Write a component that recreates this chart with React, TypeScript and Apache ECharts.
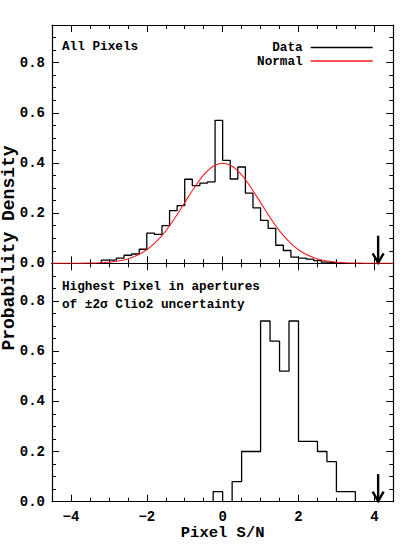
import React, { useEffect, useRef } from "react";
import * as echarts from "echarts";

// ---------- data ----------
// Upper panel: all pixels, histogram of S/N (bin width 0.2, first bin starts at -3.2)
const allBinStart = -3.2;
const allBinWidth = 0.2;
const allHeights = [
  0.013, 0.013, 0.021, 0.032, 0.037, 0.056, 0.12, 0.115, 0.15, 0.21, 0.23,
  0.335, 0.31, 0.32, 0.325, 0.57, 0.41, 0.336, 0.384, 0.28, 0.221, 0.171,
  0.139, 0.072, 0.051, 0.025, 0.021, 0.017, 0.011, 0.005, 0.003,
];

// Normal curve, read at x = -4.5 ... 4.5 every 0.25
const normalX = [
  -4.5, -4.25, -4.0, -3.75, -3.5, -3.25, -3.0, -2.75, -2.5, -2.25, -2.0, -1.75,
  -1.5, -1.25, -1.0, -0.75, -0.5, -0.25, 0.0, 0.25, 0.5, 0.75, 1.0, 1.25, 1.5,
  1.75, 2.0, 2.25, 2.5, 2.75, 3.0, 3.25, 3.5, 3.75, 4.0, 4.25, 4.5,
];
const normalY = [
  0.0, 0.0, 0.0001, 0.0004, 0.0009, 0.002, 0.0044, 0.0091, 0.0175, 0.0317,
  0.054, 0.0863, 0.1295, 0.1826, 0.242, 0.3011, 0.3521, 0.3867, 0.3989,
  0.3867, 0.3521, 0.3011, 0.242, 0.1826, 0.1295, 0.0863, 0.054, 0.0317,
  0.0175, 0.0091, 0.0044, 0.002, 0.0009, 0.0004, 0.0001, 0.0, 0.0,
];

// Lower panel: highest pixel in apertures (bin width 0.25, first bin starts at -0.25)
const highBinStart = -0.25;
const highBinWidth = 0.25;
const highHeights = [
  0.04, 0.0, 0.08, 0.2, 0.2, 0.72, 0.64, 0.52, 0.72, 0.24, 0.24, 0.2, 0.16,
  0.04, 0.04,
];

// Arrow marker (position, length in density units)
const arrowX = 4.1;
const arrowLen = 0.11;

// Ticks
const xMajor = [-4, -2, 0, 2, 4];
const xMinor = [
  -4.5, -4, -3.5, -3, -2.5, -2, -1.5, -1, -0.5, 0, 0.5, 1, 1.5, 2, 2.5, 3, 3.5,
  4, 4.5,
];
const yMajor = [0, 0.2, 0.4, 0.6, 0.8];
const yMinor = [
  0, 0.05, 0.1, 0.15, 0.2, 0.25, 0.3, 0.35, 0.4, 0.45, 0.5, 0.55, 0.6, 0.65,
  0.7, 0.75, 0.8, 0.85, 0.9, 0.95,
];

const X_MIN = -4.5;
const X_MAX = 4.5;
const Y_MIN = 0;
const Y_MAX = 0.95;

const FONT = '"Liberation Mono", "DejaVu Sans Mono", monospace';

function stepOutline(start: number, width: number, heights: number[]) {
  const pts: number[][] = [];
  pts.push([start, 0]);
  heights.forEach((h, i) => {
    const l = start + i * width;
    const r = start + (i + 1) * width;
    pts.push([l, h]);
    pts.push([r, h]);
  });
  pts.push([start + heights.length * width, 0]);
  return pts;
}

function minusFmt(v: number) {
  const r = Math.round(v * 100) / 100;
  return r < 0 ? "\u2212" + String(-r) : String(r);
}

export default function App() {
  const ref = useRef<HTMLDivElement>(null);

  useEffect(() => {
    if (!ref.current) return;
    const chart = echarts.init(ref.current, undefined, { renderer: "svg" });

    const axisLine = { show: true, onZero: false, lineStyle: { color: "#000", width: 1.2 } };
    const noLine = { show: false, onZero: false };
    const tickStyle = { color: "#000", width: 1 };

    const grids = [
      { left: 52, right: 24.7, top: 25, height: 238.3 },
      { left: 52, right: 24.7, top: 263.3, height: 238.4 },
    ];

    const xAxes: any[] = [];
    const yAxes: any[] = [];
    grids.forEach((_, g) => {
      const base = { gridIndex: g, type: "value", min: X_MIN, max: X_MAX, splitLine: { show: false } };
      xAxes.push({
        ...base,
        position: "bottom",
        axisLine,
        axisTick: { show: true, inside: true, length: 7, customValues: xMajor, lineStyle: tickStyle },
        axisLabel: {
          show: g === 1,
          customValues: xMajor,
          formatter: (v: number) => minusFmt(v),
          margin: 8,
          color: "#000",
          fontFamily: FONT,
          fontWeight: "bold",
          fontSize: 14,
        },
        name: g === 1 ? "Pixel S/N" : "",
        nameLocation: "middle",
        nameGap: 23,
        nameTextStyle: { color: "#000", fontFamily: FONT, fontWeight: "bold", fontSize: 15.5 },
      });
      xAxes.push({
        ...base,
        position: "bottom",
        axisLine: noLine,
        axisTick: { show: true, inside: true, length: 4, customValues: xMinor, lineStyle: tickStyle },
        axisLabel: { show: false },
      });
      xAxes.push({
        ...base,
        position: "top",
        axisLine,
        axisTick: { show: true, inside: true, length: 7, customValues: xMajor, lineStyle: tickStyle },
        axisLabel: { show: false },
      });
      xAxes.push({
        ...base,
        position: "top",
        axisLine: noLine,
        axisTick: { show: true, inside: true, length: 4, customValues: xMinor, lineStyle: tickStyle },
        axisLabel: { show: false },
      });

      const ybase = { gridIndex: g, type: "value", min: Y_MIN, max: Y_MAX, splitLine: { show: false } };
      yAxes.push({
        ...ybase,
        position: "left",
        axisLine,
        axisTick: { show: true, inside: true, length: 7, customValues: yMajor, lineStyle: tickStyle },
        axisLabel: {
          show: true,
          customValues: yMajor,
          formatter: (v: number) => v.toFixed(1),
          margin: 7,
          color: "#000",
          fontFamily: FONT,
          fontWeight: "bold",
          fontSize: 14,
        },
      });
      yAxes.push({
        ...ybase,
        position: "left",
        axisLine: noLine,
        axisTick: { show: true, inside: true, length: 4, customValues: yMinor, lineStyle: tickStyle },
        axisLabel: { show: false },
      });
      yAxes.push({
        ...ybase,
        position: "right",
        axisLine,
        axisTick: { show: true, inside: true, length: 7, customValues: yMajor, lineStyle: tickStyle },
        axisLabel: { show: false },
      });
      yAxes.push({
        ...ybase,
        position: "right",
        axisLine: noLine,
        axisTick: { show: true, inside: true, length: 4, customValues: yMinor, lineStyle: tickStyle },
        axisLabel: { show: false },
      });
    });

    const arrowSeries = (g: number) => ({
      type: "custom",
      name: "arrow" + g,
      xAxisIndex: g * 4,
      yAxisIndex: g * 4,
      clip: false,
      silent: true,
      data: [[arrowX, arrowLen]],
      renderItem: (params: any, api: any) => {
        const tip = api.coord([api.value(0), 0]);
        const top = api.coord([api.value(0), api.value(1)]);
        return {
          type: "group",
          children: [
            {
              type: "line",
              shape: { x1: tip[0], y1: top[1], x2: tip[0], y2: tip[1] },
              style: { stroke: "#000", lineWidth: 2.4 },
            },
            {
              type: "polyline",
              shape: {
                points: [
                  [tip[0] - 5.5, tip[1] - 10],
                  [tip[0], tip[1] - 0.5],
                  [tip[0] + 5.5, tip[1] - 10],
                ],
              },
              style: { stroke: "#000", lineWidth: 2.4, fill: "none" },
            },
          ],
        };
      },
    });

    const textStyleBase = { color: "#000", fontFamily: FONT, fontWeight: "bold", fontSize: 12.7 };

    const legendBase = {
      right: 45.3,
      padding: 0,
      align: "right",
      icon: "rect",
      itemWidth: 62,
      itemHeight: 1.4,
      textStyle: { ...textStyleBase, padding: [0, 3, 0, 0] },
      selectedMode: false,
    };

    chart.setOption({
      animation: false,
      backgroundColor: "#fff",
      grid: grids,
      xAxis: xAxes,
      yAxis: yAxes,
      title: [
        { text: "All Pixels", left: 62, top: 40, padding: 0, textStyle: textStyleBase },
        {
          text: "Highest Pixel in apertures\nof \u00b12\u03c3 Clio2 uncertainty",
          left: 62,
          top: 277,
          padding: 0,
          textStyle: { ...textStyleBase, lineHeight: 18.3 },
        },
      ],
      legend: [
        { ...legendBase, data: ["Data"], top: 41 },
        { ...legendBase, data: ["Normal"], top: 54.5 },
      ],
      graphic: [
        {
          type: "text",
          x: 9,
          y: 248,
          rotation: Math.PI / 2,
          style: {
            text: "Probability Density",
            fill: "#000",
            font: "bold 18px " + FONT,
            align: "center",
            verticalAlign: "middle",
          },
        },
      ],
      series: [
        {
          type: "line",
          name: "Data",
          xAxisIndex: 0,
          yAxisIndex: 0,
          data: stepOutline(allBinStart, allBinWidth, allHeights),
          symbol: "none",
          lineStyle: { color: "#000", width: 1.3 },
          itemStyle: { color: "#000" },
          z: 3,
        },
        {
          type: "line",
          name: "Normal",
          xAxisIndex: 0,
          yAxisIndex: 0,
          data: normalX.map((x, i) => [x, normalY[i]]),
          symbol: "none",
          smooth: 0.3,
          lineStyle: { color: "#ff1a1a", width: 1.1 },
          itemStyle: { color: "#ff1a1a" },
          z: 4,
        },
        {
          type: "line",
          name: "Highest Pixel",
          xAxisIndex: 4,
          yAxisIndex: 4,
          data: stepOutline(highBinStart, highBinWidth, highHeights),
          symbol: "none",
          lineStyle: { color: "#000", width: 1.3 },
          itemStyle: { color: "#000" },
          z: 3,
        },
        arrowSeries(0),
        arrowSeries(1),
      ],
    });

    return () => chart.dispose();
  }, []);

  return (
    <div
      ref={ref}
      style={{ position: "fixed", left: 0, top: 0, width: 418, height: 554, background: "#fff" }}
    />
  );
}
